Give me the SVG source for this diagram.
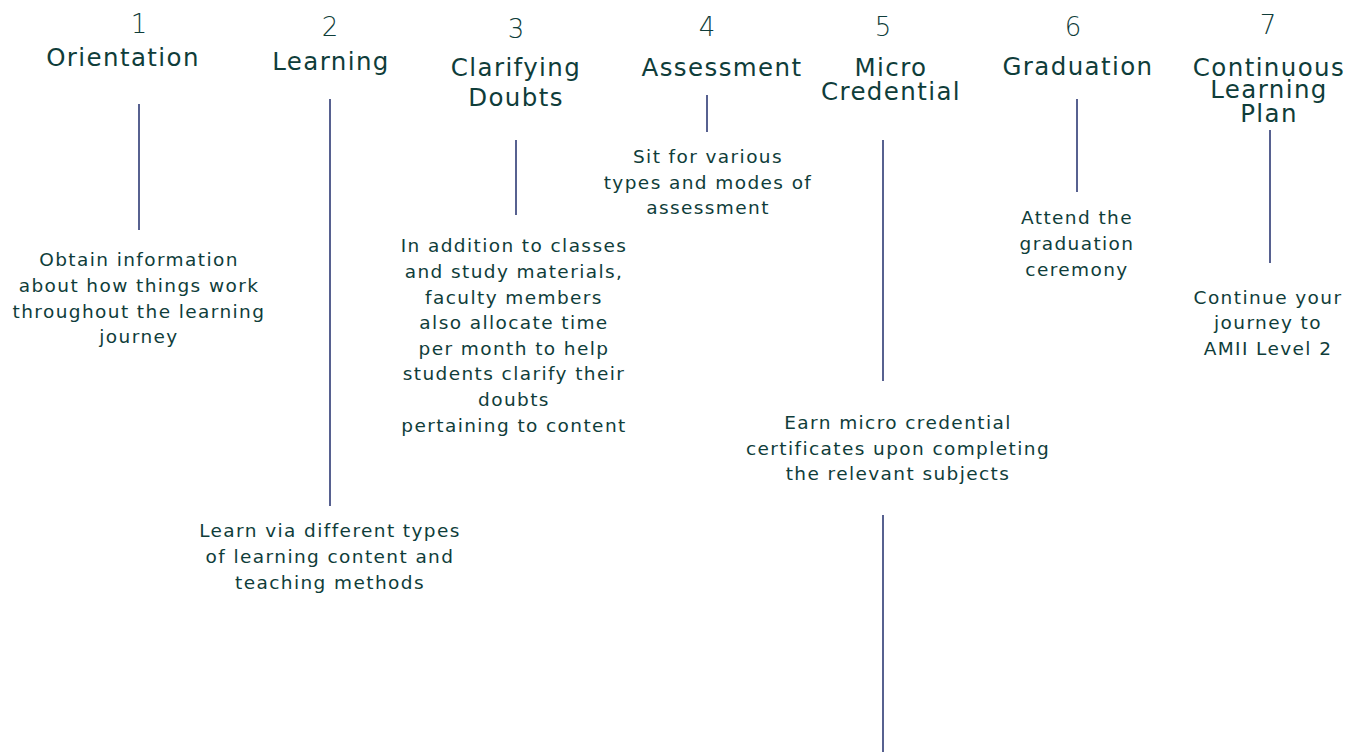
<svg xmlns="http://www.w3.org/2000/svg" width="1359" height="754" viewBox="0 0 1359 754">
<style>
.num{font-family:"DejaVu Sans",sans-serif;font-size:26px;font-weight:300;fill:#0f3d3a;text-anchor:middle}
.ttl{font-family:"DejaVu Sans",sans-serif;font-size:24.5px;letter-spacing:1.4px;fill:#0f3d3a;text-anchor:middle}
.body{font-family:"DejaVu Sans",sans-serif;font-size:18.5px;letter-spacing:1.4px;fill:#0f3d3a;text-anchor:middle}
.conn line{stroke:#1f2d6b;stroke-width:1.5}
</style>
<rect width="1359" height="754" fill="#ffffff"/>
<g id="connectors" class="conn">
<line x1="139" y1="104" x2="139" y2="230"/>
<line x1="330" y1="99" x2="330" y2="506"/>
<line x1="516" y1="140" x2="516" y2="215"/>
<line x1="707" y1="95" x2="707" y2="132"/>
<line x1="883" y1="140" x2="883" y2="381"/>
<line x1="883" y1="515" x2="883" y2="752"/>
<line x1="1077" y1="99" x2="1077" y2="192"/>
<line x1="1270" y1="130" x2="1270" y2="263"/>
</g>
<g id="step1">
<text class="num" x="139" y="33">1</text>
<text class="ttl" x="123" y="66">Orientation</text>
<text class="body"><tspan x="139" y="266">Obtain information</tspan><tspan x="139" y="292">about how things work</tspan><tspan x="139" y="318">throughout the learning</tspan><tspan x="139" y="343">journey</tspan></text>
</g>
<g id="step2">
<text class="num" x="330" y="36">2</text>
<text class="ttl" x="331" y="70">Learning</text>
<text class="body"><tspan x="330" y="537">Learn via different types</tspan><tspan x="330" y="563">of learning content and</tspan><tspan x="330" y="589">teaching methods</tspan></text>
</g>
<g id="step3">
<text class="num" x="516" y="38">3</text>
<text class="ttl"><tspan x="516" y="76">Clarifying</tspan><tspan x="516" y="106">Doubts</tspan></text>
<text class="body"><tspan x="514" y="252">In addition to classes</tspan><tspan x="514" y="278">and study materials,</tspan><tspan x="514" y="304">faculty members</tspan><tspan x="514" y="329">also allocate time</tspan><tspan x="514" y="355">per month to help</tspan><tspan x="514" y="380">students clarify their</tspan><tspan x="514" y="406">doubts</tspan><tspan x="514" y="432">pertaining to content</tspan></text>
</g>
<g id="step4">
<text class="num" x="707" y="36">4</text>
<text class="ttl" x="722" y="76">Assessment</text>
<text class="body"><tspan x="708" y="163">Sit for various</tspan><tspan x="708" y="189">types and modes of</tspan><tspan x="708" y="214">assessment</tspan></text>
</g>
<g id="step5">
<text class="num" x="883" y="36">5</text>
<text class="ttl"><tspan x="891" y="76">Micro</tspan><tspan x="891" y="100">Credential</tspan></text>
<text class="body"><tspan x="898" y="429">Earn micro credential</tspan><tspan x="898" y="455">certificates upon completing</tspan><tspan x="898" y="480">the relevant subjects</tspan></text>
</g>
<g id="step6">
<text class="num" x="1073" y="36">6</text>
<text class="ttl" x="1078" y="75">Graduation</text>
<text class="body"><tspan x="1077" y="224">Attend the</tspan><tspan x="1077" y="250">graduation</tspan><tspan x="1077" y="276">ceremony</tspan></text>
</g>
<g id="step7">
<text class="num" x="1268" y="34">7</text>
<text class="ttl"><tspan x="1269" y="76">Continuous</tspan><tspan x="1269" y="98">Learning</tspan><tspan x="1269" y="122">Plan</tspan></text>
<text class="body"><tspan x="1268" y="304">Continue your</tspan><tspan x="1268" y="329">journey to</tspan><tspan x="1268" y="355">AMII Level 2</tspan></text>
</g>
</svg>
